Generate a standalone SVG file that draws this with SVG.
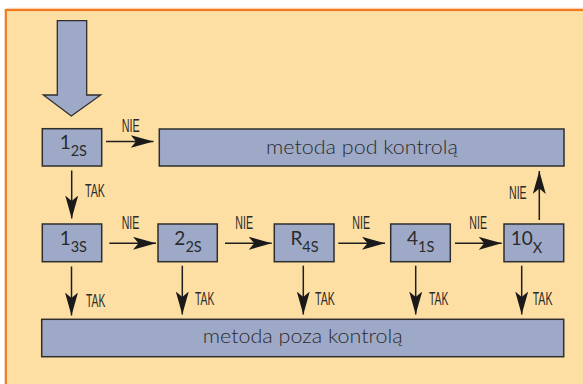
<svg xmlns="http://www.w3.org/2000/svg" width="583" height="384" viewBox="0 0 583 384">
  <style>
    .box { fill: #9EA9C8; stroke: #2E2E2E; stroke-width: 1.5; }
    .lbl { font-family: Lato, "Open Sans", "DejaVu Sans", sans-serif; font-weight: 300; fill: #2B2B2B; }
    .big { font-size: 19px; text-anchor: middle; }
    .main { font-size: 19px; font-weight: 400; text-anchor: middle; }
    .cond { font-family: "Liberation Sans", Arial, sans-serif; font-size: 18px; fill: #2B2B2B; }
    .conn { stroke: #1E1E1E; stroke-width: 1.5; fill: none; marker-end: url(#head); }
  </style>
  <defs>
    <marker id="head" markerUnits="userSpaceOnUse" markerWidth="23" markerHeight="13" viewBox="0 0 23 13" refX="23" refY="6.5" orient="auto">
      <path d="M0,0 L23,6.5 L0,13 L5.5,6.5 Z" fill="#1A1A1A"/>
    </marker>
  </defs>

  <!-- panel -->
  <rect x="0" y="0" width="583" height="384" fill="#FFFFFF"/>
  <rect x="5.8" y="10" width="600" height="400" fill="#FEDFA3" stroke="#F07B22" stroke-width="2.2"/>
  <line x1="7" y1="8.3" x2="583" y2="8.3" stroke="#F9C9A0" stroke-width="1"/>

  <!-- entry arrow -->
  <g id="entry">
    <polygon points="57.3,20.7 86.7,20.7 86.7,95 100.7,95 71.3,116 43.3,95 57.3,95" fill="#9EA9C8" stroke="#2E2E2E" stroke-width="1.3"/>
  </g>

  <!-- connectors -->
  <g id="connectors">
    <line class="conn" x1="106" y1="141.5" x2="153.5" y2="141.5"/>
    <line class="conn" x1="71.7" y1="170.5" x2="71.7" y2="218.5"/>
    <line class="conn" x1="109.3" y1="243.3" x2="156" y2="243.3"/>
    <line class="conn" x1="225" y1="243.3" x2="271.7" y2="243.3"/>
    <line class="conn" x1="338.3" y1="243.3" x2="385" y2="243.3"/>
    <line class="conn" x1="455" y1="243.3" x2="501.7" y2="243.3"/>
    <line class="conn" x1="539.3" y1="220" x2="539.3" y2="171"/>
    <line class="conn" x1="71.5" y1="266.5" x2="71.5" y2="315.5"/>
    <line class="conn" x1="182.3" y1="265.7" x2="182.3" y2="314.5"/>
    <line class="conn" x1="303.3" y1="265.7" x2="303.3" y2="314.5"/>
    <line class="conn" x1="415.7" y1="265.7" x2="415.7" y2="314.5"/>
    <line class="conn" x1="521.7" y1="265.7" x2="521.7" y2="314.5"/>

    <text class="cond" x="121.7" y="131.7" textLength="18" lengthAdjust="spacingAndGlyphs">NIE</text>
    <text class="cond" x="85" y="197.3" textLength="20" lengthAdjust="spacingAndGlyphs">TAK</text>
    <text class="cond" x="121.7" y="229" textLength="17.7" lengthAdjust="spacingAndGlyphs">NIE</text>
    <text class="cond" x="235.3" y="229" textLength="17.7" lengthAdjust="spacingAndGlyphs">NIE</text>
    <text class="cond" x="352.3" y="229" textLength="17.7" lengthAdjust="spacingAndGlyphs">NIE</text>
    <text class="cond" x="469.3" y="229" textLength="17.7" lengthAdjust="spacingAndGlyphs">NIE</text>
    <text class="cond" x="509" y="199.3" textLength="17.7" lengthAdjust="spacingAndGlyphs">NIE</text>
    <text class="cond" x="86" y="306.5" textLength="19.3" lengthAdjust="spacingAndGlyphs">TAK</text>
    <text class="cond" x="195" y="305" textLength="19.3" lengthAdjust="spacingAndGlyphs">TAK</text>
    <text class="cond" x="315" y="304.5" textLength="19.8" lengthAdjust="spacingAndGlyphs">TAK</text>
    <text class="cond" x="429" y="304.5" textLength="19.3" lengthAdjust="spacingAndGlyphs">TAK</text>
    <text class="cond" x="532.7" y="304.5" textLength="19.8" lengthAdjust="spacingAndGlyphs">TAK</text>
  </g>

  <!-- nodes -->
  <g id="n-1-2s">
    <rect class="box" x="42.3" y="128.7" width="59.4" height="37.3"/>
    <text class="lbl main" x="73.3" y="149"><tspan>1</tspan><tspan font-size="14.5" dy="7">2S</tspan></text>
  </g>
  <g id="pod-kontrola">
    <rect class="box" x="159.3" y="129" width="404.7" height="37"/>
    <text class="lbl big" x="362" y="154.3" textLength="192" lengthAdjust="spacingAndGlyphs">metoda pod kontrolą</text>
  </g>
  <g id="n-1-3s">
    <rect class="box" x="42.3" y="224" width="59.4" height="37.7"/>
    <text class="lbl main" x="73.3" y="245.3"><tspan>1</tspan><tspan font-size="14.5" dy="6.5">3S</tspan></text>
  </g>
  <g id="n-2-2s">
    <rect class="box" x="158" y="224" width="59.3" height="37.7"/>
    <text class="lbl main" x="188" y="245.3"><tspan>2</tspan><tspan font-size="14.5" dy="6.5">2S</tspan></text>
  </g>
  <g id="n-r-4s">
    <rect class="box" x="274.3" y="224" width="59.7" height="37.7"/>
    <text class="lbl main" x="304.5" y="245.3"><tspan>R</tspan><tspan font-size="14.5" dy="6.5">4S</tspan></text>
  </g>
  <g id="n-4-1s">
    <rect class="box" x="390.7" y="224" width="59.6" height="37.7"/>
    <text class="lbl main" x="420.7" y="245.3"><tspan>4</tspan><tspan font-size="14.5" dy="6.5">1S</tspan></text>
  </g>
  <g id="n-10-x">
    <rect class="box" x="504" y="224" width="59.7" height="37.7"/>
    <text class="lbl main" x="526.5" y="245.3"><tspan>10</tspan><tspan font-size="14.5" dy="7.5">X</tspan></text>
  </g>
  <g id="poza-kontrola">
    <rect class="box" x="41.7" y="319.3" width="522" height="37.4"/>
    <text class="lbl big" x="302.7" y="343.3" textLength="200" lengthAdjust="spacingAndGlyphs">metoda poza kontrolą</text>
  </g>
</svg>
